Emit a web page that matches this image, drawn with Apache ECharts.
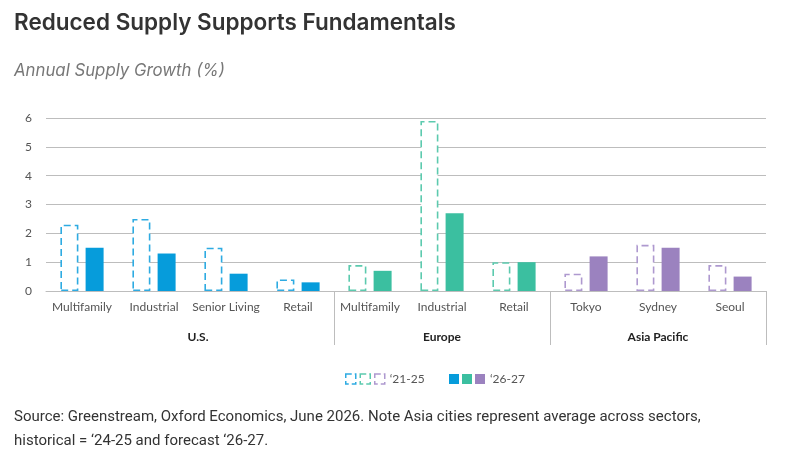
<!DOCTYPE html>
<html>
<head>
<meta charset="utf-8">
<script src="https://cdn.jsdelivr.net/npm/echarts@6/dist/echarts.min.js"></script>
<style>
  html, body { margin: 0; padding: 0; background: #fff; }
  #chart { width: 785px; height: 463px; }
</style>
</head>
<body>
<div id="chart"></div>
<script>
// categories along the x axis, and the group each one belongs to
const categories = ['Multifamily', 'Industrial', 'Senior Living', 'Retail', 'Multifamily', 'Industrial', 'Retail', 'Tokyo', 'Sydney', 'Seoul'];
const groups = ['U.S.', 'Europe', 'Asia Pacific'];
const groupOf = [0, 0, 0, 0, 1, 1, 1, 2, 2, 2];
const groupColors = ['#069cdb', '#3bbfa0', '#9b82bf'];
const dashColors = ['#2eabe2', '#5ccaae', '#ae99cf'];

// annual supply growth (%)
const hist2125 = [2.3, 2.5, 1.5, 0.4, 0.9, 5.9, 1.0, 0.6, 1.6, 0.9];
const fcst2627 = [1.5, 1.3, 0.6, 0.3, 0.7, 2.7, 1.0, 1.2, 1.5, 0.5];

const yMin = 0, yMax = 6, yStep = 1;
const histLabel = '\u201821-25';
const fcstLabel = '\u201826-27';

const chart = echarts.init(document.getElementById('chart'));

const series = [];
const histNames = [], fcstNames = [];
groups.forEach((g, gi) => {
  const hName = g + ' ' + histLabel;
  const fName = g + ' ' + fcstLabel;
  histNames.push(hName);
  fcstNames.push(fName);
  series.push({
    name: hName,
    type: 'bar',
    stack: 'hist',
    barWidth: 18,
    barGap: '40%',
    data: hist2125.map((v, i) => groupOf[i] === gi ? v : '-'),
    itemStyle: {
      color: '#fff',
      borderColor: dashColors[gi],
      borderWidth: 1.6,
      borderType: [7, 4]
    }
  });
});
groups.forEach((g, gi) => {
  series.push({
    name: fcstNames[gi],
    type: 'bar',
    stack: 'fcst',
    barWidth: 18,
    data: fcst2627.map((v, i) => groupOf[i] === gi ? v : '-'),
    itemStyle: { color: groupColors[gi] }
  });
});

// where the group labels sit (category index) and which boundaries get a divider
const groupLabelAt = { 1: 0, 5: 1, 8: 2 };
const dividerAt = [4, 7];

chart.setOption({
  animation: false,
  title: [
    {
      text: 'Reduced Supply Supports Fundamentals',
      left: 9, top: 7,
      textStyle: { fontFamily: 'Inter', fontSize: 22.5, fontWeight: 600, color: '#333' }
    },
    {
      text: 'Annual Supply Growth (%)',
      left: 9, top: 57,
      textStyle: { fontFamily: 'Inter', fontSize: 16.8, fontWeight: 'normal', fontStyle: 'italic', color: '#777' }
    },
    {
      text: 'Source: Greenstream, Oxford Economics, June 2026. Note Asia cities represent average across sectors,\nhistorical = \u201824-25 and forecast \u201826-27.',
      left: 9, top: 400,
      textStyle: { fontFamily: 'Roboto', fontSize: 15, fontWeight: 'normal', color: '#333', lineHeight: 24 }
    }
  ],
  legend: [
    {
      data: histNames,
      left: 340, top: 368,
      itemWidth: 10, itemHeight: 10, itemGap: 3,
      icon: 'rect',
      itemStyle: { color: '#fff', borderWidth: 1.5, borderType: [6, 3] },
      formatter: name => name === histNames[2] ? histLabel : '',
      textStyle: { fontFamily: 'Lato', fontSize: 12, color: '#555' },
      selectedMode: false
    },
    {
      data: fcstNames,
      left: 444, top: 368,
      itemWidth: 10, itemHeight: 10, itemGap: 3,
      icon: 'rect',
      formatter: name => name === fcstNames[2] ? fcstLabel : '',
      textStyle: { fontFamily: 'Lato', fontSize: 12, color: '#555' },
      selectedMode: false
    }
  ],
  grid: { left: 46, right: 19, top: 118, bottom: 172, containLabel: false, outerBoundsMode: 'none' },
  xAxis: [
    {
      type: 'category',
      data: categories,
      axisLine: { lineStyle: { color: '#bdbdbd' } },
      axisTick: { show: false },
      axisLabel: { interval: 0, margin: 10, fontFamily: 'Lato', fontSize: 12, color: '#555' }
    },
    {
      type: 'category',
      data: categories,
      position: 'bottom',
      axisLine: { show: false },
      axisTick: {
        show: true,
        length: 54,
        interval: (i) => dividerAt.includes(i),
        lineStyle: { color: '#bdbdbd' }
      },
      axisLabel: {
        interval: 0,
        margin: 40,
        formatter: (v, i) => {
          if (!(i in groupLabelAt)) return '';
          const name = groups[groupLabelAt[i]];
          return i === 1 ? '{us|' + name + '}' : '{g|' + name + '}';
        },
        rich: {
          g: { fontFamily: 'Lato', fontSize: 12, fontWeight: 'bold', color: '#222' },
          us: { fontFamily: 'Lato', fontSize: 12, fontWeight: 'bold', color: '#222', padding: [0, 0, 0, 88] }
        }
      }
    }
  ],
  yAxis: {
    type: 'value',
    min: yMin, max: yMax, interval: yStep,
    axisLine: { show: false },
    axisTick: { show: false },
    splitLine: { lineStyle: { color: '#bdbdbd' } },
    axisLabel: { margin: 14, fontFamily: 'Lato', fontSize: 12, color: '#555' }
  },
  series: series
});
</script>
</body>
</html>
